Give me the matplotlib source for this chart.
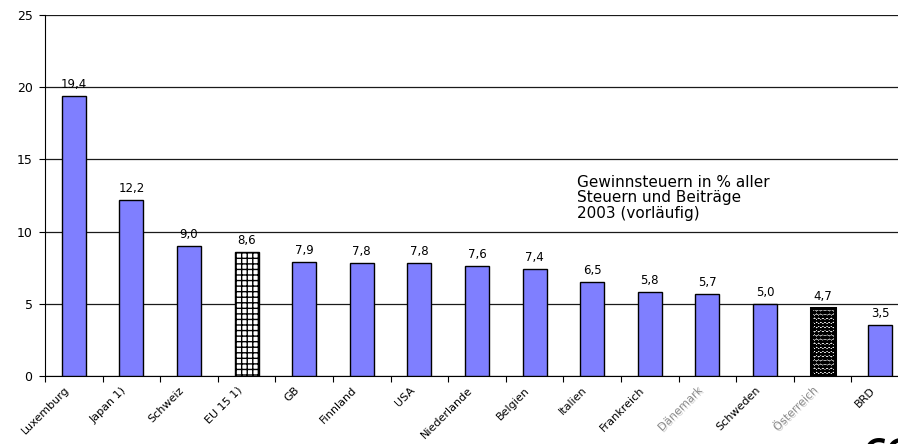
import matplotlib.pyplot as plt
import matplotlib.patheffects as pe
import numpy as np

plt.rcParams["font.family"] = ["DejaVu Sans"]
plt.rcParams["hatch.linewidth"] = 1.0

# Gewinnsteuern in % aller Steuern und Beiträge, 2003
countries = ["Luxemburg", "Japan 1)", "Schweiz", "EU 15 1)", "GB", "Finnland",
             "USA", "Niederlande", "Belgien", "Italien", "Frankreich",
             "Dänemark", "Schweden", "Österreich", "BRD"]
values = [19.4, 12.2, 9.0, 8.6, 7.9, 7.8, 7.8, 7.6, 7.4, 6.5, 5.8, 5.7, 5.0, 4.7, 3.5]
eu_label = "EU 15 1)"
at_label = "Österreich"
grey_labels = ["Dänemark", "Österreich"]

fig = plt.figure(figsize=(8.98, 4.44), dpi=100)
ax = fig.add_axes([45 / 898, 1 - 376 / 444, 864 / 898, 361 / 444])

x = np.arange(len(countries))
w = 0.42
blue = "#7f7fff"

for xi, name, v in zip(x, countries, values):
    if name == eu_label:
        ax.bar(xi, v, w, color="white", edgecolor="black", hatch="+++",
               linewidth=1.0, zorder=3)
    elif name == at_label:
        with plt.rc_context({"hatch.linewidth": 1.6}):
            bars = ax.bar(xi, v, w, color="white", edgecolor="black", hatch="oooo",
                          linewidth=2.2, zorder=3)
        for b in bars:
            if hasattr(b, "set_hatch_linewidth"):
                b.set_hatch_linewidth(1.6)
    else:
        ax.bar(xi, v, w, color=blue, edgecolor="black", linewidth=1.0, zorder=3)
    ax.annotate(f"{v:.1f}".replace(".", ","), (xi, v), xytext=(0, 5),
                textcoords="offset pixels", ha="center", va="bottom",
                fontsize=8.5, zorder=4)

ax.set_xlim(-0.5, len(countries) - 0.5)
ax.set_ylim(0, 25)
ax.set_yticks([0, 5, 10, 15, 20, 25])
ax.yaxis.grid(True, color="#1a1a1a", linewidth=0.9, zorder=0)
ax.tick_params(axis="y", labelsize=9, length=4, width=0.8, pad=5)

# ticks sit between the categories, labels under the bars
ax.set_xticks(np.arange(-0.5, len(countries), 1.0))
ax.set_xticklabels([])
ax.tick_params(axis="x", length=4, width=0.8)
for xi, name in zip(x, countries):
    grey = name in grey_labels
    t = ax.annotate(name, (xi, 0), xycoords=("data", "axes fraction"),
                    xytext=(-10, -9), textcoords="offset pixels",
                    rotation=45, rotation_mode="anchor", ha="right", va="top",
                    fontsize=8, color="#8c8c8c" if grey else "black")
    if grey:
        t.set_path_effects([pe.withSimplePatchShadow(offset=(1, -1),
                                                     shadow_rgbFace="#bbbbbb",
                                                     alpha=0.6)])

for side in ["top", "right"]:
    ax.spines[side].set_visible(False)
ax.spines["left"].set_linewidth(0.8)
ax.spines["bottom"].set_linewidth(0.8)

ax.text(8.74, 13.95, "Gewinnsteuern in % aller\nSteuern und Beiträge\n2003 (vorläufig)",
        ha="left", va="top", fontsize=11, linespacing=1.05, zorder=4)

fig.text(862 / 898, 1 - 437 / 444, "66", ha="left", va="top", fontsize=24,
         fontweight="bold", fontstyle="italic")

fig.savefig("out.png", dpi=100)
